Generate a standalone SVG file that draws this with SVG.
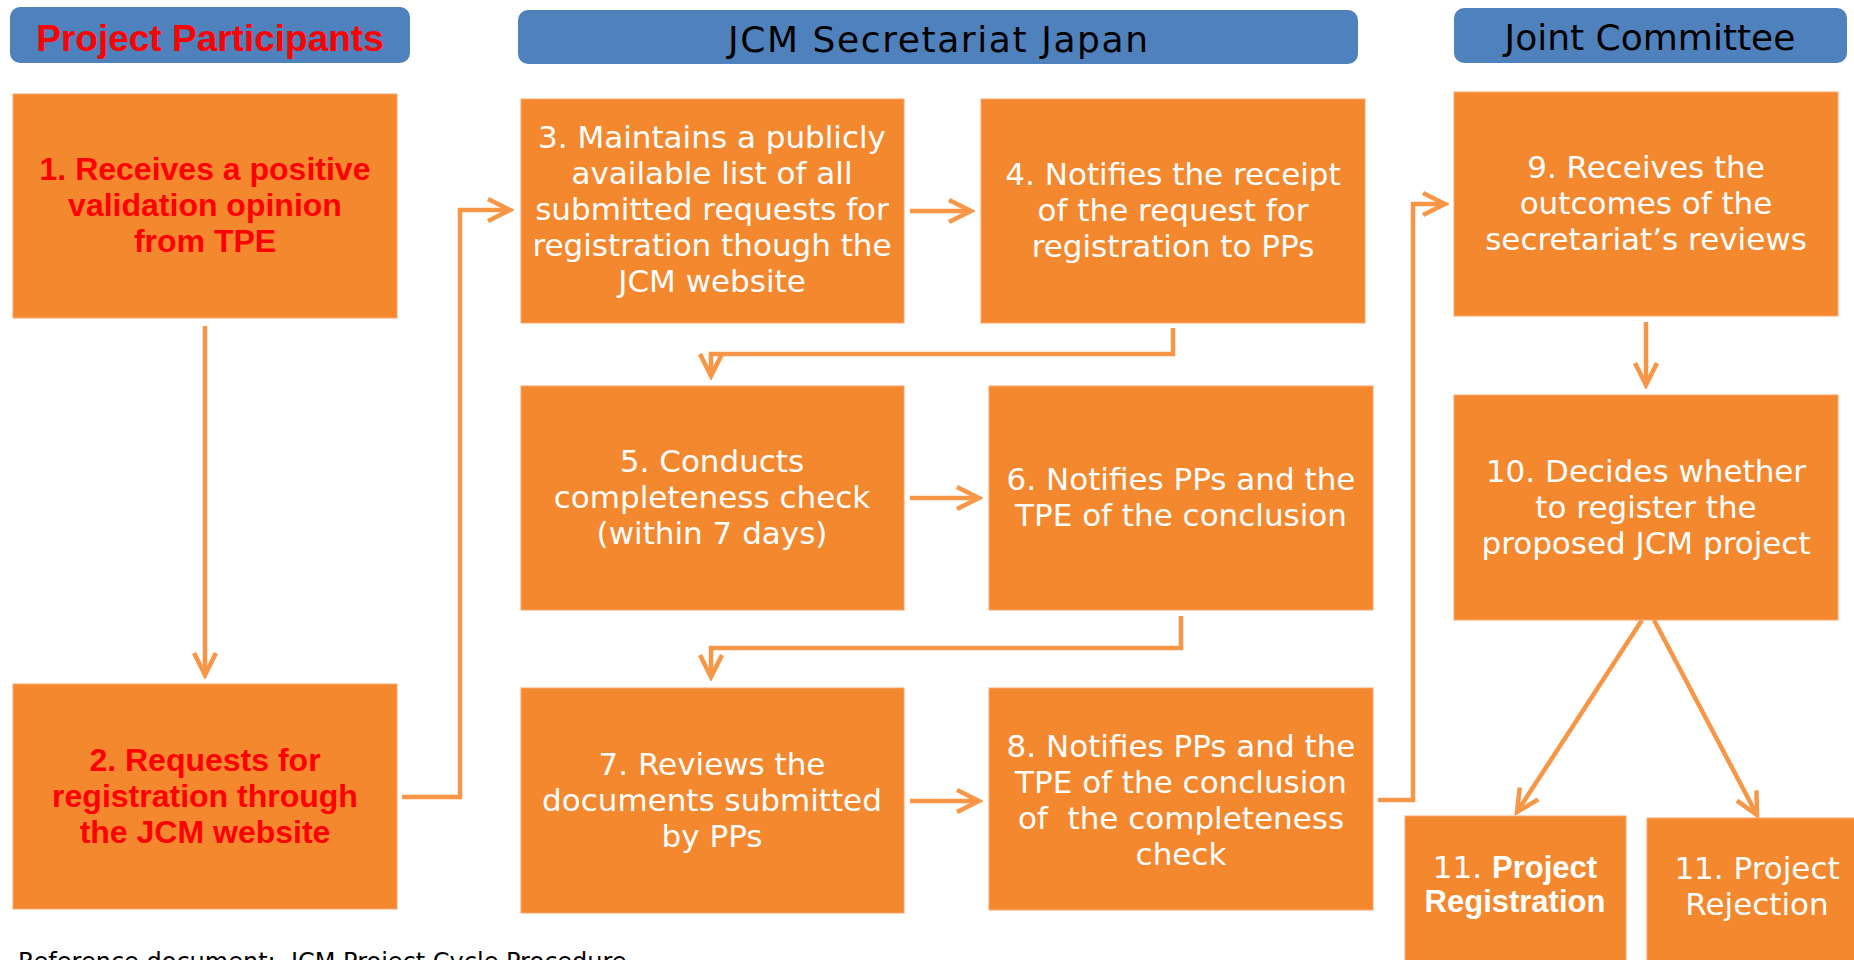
<svg xmlns="http://www.w3.org/2000/svg" width="1854" height="960" viewBox="0 0 1854 960">
<defs>
<style>
.hdr{fill:#4F81BD}
.box{fill:#F4882E;stroke:#F7A66A;stroke-width:1}
.wt{font-family:"DejaVu Sans","Noto Sans",sans-serif;font-size:31px;fill:#FFFFFF;text-anchor:middle}
.rt{font-family:"Liberation Sans",Arial,sans-serif;font-weight:bold;font-size:32px;fill:#FF0000;text-anchor:middle}
.ht{font-family:"DejaVu Sans","Noto Sans",sans-serif;font-size:36px;fill:#000000;text-anchor:middle}
.con{fill:none;stroke:#F79646;stroke-width:4.5;stroke-linejoin:miter}
</style>
<marker id="ah" markerUnits="userSpaceOnUse" markerWidth="30" markerHeight="30" viewBox="-26 -14 30 28" refX="0" refY="0" orient="auto">
<path d="M-22,-11 L0,0 L-22,11" fill="none" stroke="#F79646" stroke-width="4.5"/>
</marker>
</defs>
<rect width="1854" height="960" fill="#FFFFFF"/>

<g id="header-pp">
<rect class="hdr" x="10" y="7" width="400" height="56" rx="10"/>
<text x="210" y="51" font-family="Liberation Sans, Arial, sans-serif" font-weight="bold" font-size="37" fill="#FF0000" text-anchor="middle">Project Participants</text>
</g>
<g id="header-jcm">
<rect class="hdr" x="518" y="10" width="840" height="54" rx="10"/>
<text class="ht" x="938" y="52" textLength="420" lengthAdjust="spacing">JCM Secretariat Japan</text>
</g>
<g id="header-jc">
<rect class="hdr" x="1454" y="8" width="393" height="55" rx="10"/>
<text class="ht" x="1650" y="50">Joint Committee</text>
</g>

<g id="connectors">
<path class="con" d="M205,326 L205,675" marker-end="url(#ah)"/>
<path class="con" d="M402,797 L460,797 L460,210 L510,210" marker-end="url(#ah)"/>
<path class="con" d="M910,211 L971,211" marker-end="url(#ah)"/>
<path class="con" d="M1173,328 L1173,354 L711,354 L711,376" marker-end="url(#ah)"/>
<path class="con" d="M910,498 L979,498" marker-end="url(#ah)"/>
<path class="con" d="M1181,616 L1181,648 L711,648 L711,677" marker-end="url(#ah)"/>
<path class="con" d="M910,801 L979,801" marker-end="url(#ah)"/>
<path class="con" d="M1378,800 L1413,800 L1413,204 L1445,204" marker-end="url(#ah)"/>
<path class="con" d="M1646,322 L1646,385" marker-end="url(#ah)"/>
<path class="con" d="M1642,620 L1517,812" marker-end="url(#ah)"/>
<path class="con" d="M1654,620 L1757,815" marker-end="url(#ah)"/>
</g>

<g id="n1">
<rect class="box" x="13" y="94" width="384" height="224"/>
<text class="rt"><tspan x="205" y="180">1. Receives a positive</tspan><tspan x="205" y="216">validation opinion</tspan><tspan x="205" y="252">from TPE</tspan></text>
</g>
<g id="n2">
<rect class="box" x="13" y="684" width="384" height="225"/>
<text class="rt"><tspan x="205" y="771">2. Requests for</tspan><tspan x="205" y="807">registration through</tspan><tspan x="205" y="843">the JCM website</tspan></text>
</g>
<g id="n3">
<rect class="box" x="521" y="99" width="383" height="224"/>
<text class="wt"><tspan x="712" y="148">3. Maintains a publicly</tspan><tspan x="712" y="184">available list of all</tspan><tspan x="712" y="220">submitted requests for</tspan><tspan x="712" y="256">registration though the</tspan><tspan x="712" y="292">JCM website</tspan></text>
</g>
<g id="n4">
<rect class="box" x="981" y="99" width="384" height="224"/>
<text class="wt"><tspan x="1173" y="185">4. Notifies the receipt</tspan><tspan x="1173" y="221">of the request for</tspan><tspan x="1173" y="257">registration to PPs</tspan></text>
</g>
<g id="n5">
<rect class="box" x="521" y="386" width="383" height="224"/>
<text class="wt"><tspan x="712" y="472">5. Conducts</tspan><tspan x="712" y="508">completeness check</tspan><tspan x="712" y="544">(within 7 days)</tspan></text>
</g>
<g id="n6">
<rect class="box" x="989" y="386" width="384" height="224"/>
<text class="wt"><tspan x="1181" y="490">6. Notifies PPs and the</tspan><tspan x="1181" y="526">TPE of the conclusion</tspan></text>
</g>
<g id="n7">
<rect class="box" x="521" y="688" width="383" height="225"/>
<text class="wt"><tspan x="712" y="775">7. Reviews the</tspan><tspan x="712" y="811">documents submitted</tspan><tspan x="712" y="847">by PPs</tspan></text>
</g>
<g id="n8">
<rect class="box" x="989" y="688" width="384" height="222"/>
<text class="wt" xml:space="preserve"><tspan x="1181" y="757">8. Notifies PPs and the</tspan><tspan x="1181" y="793">TPE of the conclusion</tspan><tspan x="1181" y="829">of  the completeness</tspan><tspan x="1181" y="865">check</tspan></text>
</g>
<g id="n9">
<rect class="box" x="1454" y="92" width="384" height="224"/>
<text class="wt"><tspan x="1646" y="178">9. Receives the</tspan><tspan x="1646" y="214">outcomes of the</tspan><tspan x="1646" y="250">secretariat’s reviews</tspan></text>
</g>
<g id="n10">
<rect class="box" x="1454" y="395" width="384" height="225"/>
<text class="wt"><tspan x="1646" y="482">10. Decides whether</tspan><tspan x="1646" y="518">to register the</tspan><tspan x="1646" y="554">proposed JCM project</tspan></text>
</g>
<g id="n11a">
<rect class="box" x="1405" y="816" width="221" height="150"/>
<text class="wt"><tspan x="1515" y="878">11. <tspan font-family="Liberation Sans, Arial, sans-serif" font-weight="bold">Project</tspan></tspan><tspan x="1515" y="912" font-family="Liberation Sans, Arial, sans-serif" font-weight="bold">Registration</tspan></text>
</g>
<g id="n11b">
<rect class="box" x="1647" y="818" width="220" height="150"/>
<text class="wt"><tspan x="1757" y="879">11. Project</tspan><tspan x="1757" y="915">Rejection</tspan></text>
</g>

<text x="18" y="970" font-family="DejaVu Sans, sans-serif" font-size="24" fill="#000000" xml:space="preserve">Reference document:  JCM Project Cycle Procedure</text>
</svg>
